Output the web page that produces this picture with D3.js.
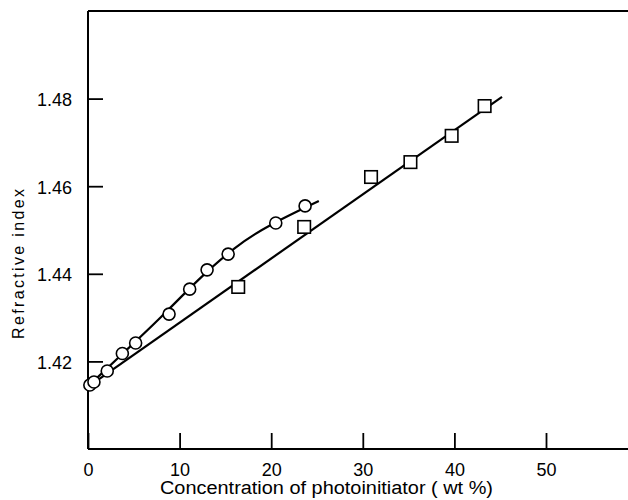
<!DOCTYPE html>
<html><head><meta charset="utf-8">
<script src="https://cdn.jsdelivr.net/npm/d3@7"></script>
<style>body{margin:0;background:#fff}svg{display:block}</style>
</head><body>
<svg id="chart" width="628" height="500"></svg>
<script>
// Data
const circleX = [0.2, 0.65, 2.1, 3.75, 5.2, 8.85, 11.1, 13.0, 15.3, 20.5, 23.7];
const circleY = [1.4146, 1.4153, 1.4178, 1.4218, 1.4242, 1.4308, 1.4365, 1.4409, 1.4445, 1.4516, 1.4555];
const squareX = [16.4, 23.6, 30.9, 35.2, 39.7, 43.3];
const squareY = [1.4370, 1.4507, 1.4621, 1.4655, 1.4715, 1.4783];
const curveX = [0, 4, 8, 12, 16, 20, 25.2];
const curveY = [1.4143, 1.4222, 1.4302, 1.4385, 1.4458, 1.4512, 1.4566];
const lineX = [0, 45.2];
const lineY = [1.4142, 1.4804];
const xTicks = [0, 10, 20, 30, 40, 50];
const yTicks = [1.42, 1.44, 1.46, 1.48];
const xTitle = "Concentration of photoinitiator ( wt %)";
const yTitle = "Refractive index";

const svg = d3.select("#chart");
const font = "'Liberation Sans', Arial, sans-serif";
const x = d3.scaleLinear().domain([0, 50]).range([88, 546]);
const y = d3.scaleLinear().domain([1.40, 1.50]).range([449, 11]);
const W = 628;

// Axes
const xAxis = d3.axisBottom(x).tickValues(xTicks).tickFormat(d3.format("d"))
  .tickSizeInner(-16).tickSizeOuter(0).tickPadding(14);
const gx = svg.append("g").attr("transform", `translate(0,${y(1.40)})`).call(xAxis);
gx.select(".domain").remove();
gx.selectAll(".tick line").attr("stroke", "#000").attr("stroke-width", 1.8);
gx.selectAll(".tick text").attr("font-family", font).attr("font-size", 18).attr("fill", "#000");

const yAxis = d3.axisLeft(y).tickValues(yTicks).tickFormat(d3.format(".2f"))
  .tickSizeInner(-15).tickSizeOuter(0).tickPadding(16);
const gy = svg.append("g").attr("transform", `translate(${x(0)},0)`).call(yAxis);
gy.select(".domain").remove();
gy.selectAll(".tick line").attr("stroke", "#000").attr("stroke-width", 1.8);
gy.selectAll(".tick text").attr("font-family", font).attr("font-size", 18).attr("fill", "#000").attr("dy", "0.38em");

// Frame (left, top, bottom)
const frame = svg.append("g").attr("stroke", "#000").attr("stroke-width", 2).attr("fill", "none");
frame.append("line").attr("x1", x(0)).attr("x2", x(0)).attr("y1", y(1.50)).attr("y2", y(1.40));
frame.append("line").attr("x1", x(0)).attr("x2", W).attr("y1", y(1.50)).attr("y2", y(1.50));
frame.append("line").attr("x1", x(0)).attr("x2", W).attr("y1", y(1.40)).attr("y2", y(1.40));

// Fitted lines
const curvePts = curveX.map((d, i) => [d, curveY[i]]);
const linePts = lineX.map((d, i) => [d, lineY[i]]);
const lineGen = d3.line().x(d => x(d[0])).y(d => y(d[1]));
svg.append("path").attr("d", lineGen.curve(d3.curveNatural)(curvePts))
  .attr("fill", "none").attr("stroke", "#000").attr("stroke-width", 2.2);
svg.append("path").attr("d", d3.line().x(d => x(d[0])).y(d => y(d[1]))(linePts))
  .attr("fill", "none").attr("stroke", "#000").attr("stroke-width", 2.2);

// Markers
svg.append("g").selectAll("circle").data(circleX.map((d, i) => [d, circleY[i]])).join("circle")
  .attr("cx", d => x(d[0])).attr("cy", d => y(d[1])).attr("r", 6)
  .attr("fill", "#fff").attr("stroke", "#000").attr("stroke-width", 1.6);
const s = 12.5;
svg.append("g").selectAll("rect").data(squareX.map((d, i) => [d, squareY[i]])).join("rect")
  .attr("x", d => x(d[0]) - s / 2).attr("y", d => y(d[1]) - s / 2).attr("width", s).attr("height", s)
  .attr("fill", "#fff").attr("stroke", "#000").attr("stroke-width", 1.6);

// Titles
svg.append("text").attr("x", 326.5).attr("y", 494).attr("text-anchor", "middle")
  .attr("font-family", font).attr("font-size", 18).attr("fill", "#000")
  .attr("textLength", 333).attr("lengthAdjust", "spacingAndGlyphs").text(xTitle);
svg.append("text").attr("transform", "translate(24,264) rotate(-90)").attr("text-anchor", "middle")
  .attr("font-family", font).attr("font-size", 16).attr("fill", "#000")
  .attr("textLength", 150).attr("lengthAdjust", "spacing").text(yTitle);
</script>
</body></html>
